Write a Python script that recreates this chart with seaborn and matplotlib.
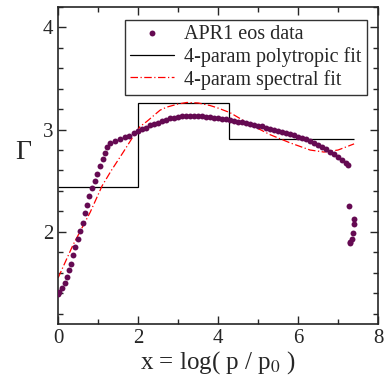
import numpy as np
import pandas as pd
import seaborn as sns
from matplotlib import pyplot as plt
from matplotlib.ticker import MultipleLocator

# APR1 eos data
apr_x = [0.0, 0.03, 0.1, 0.16, 0.21, 0.27, 0.32, 0.375, 0.43, 0.49, 0.55, 0.61,
         0.67, 0.73, 0.78, 0.84, 0.92, 0.98, 1.05, 1.12, 1.18, 1.23, 1.29, 1.42,
         1.54, 1.66, 1.78, 1.9,
         2.0, 2.1, 2.2, 2.3, 2.4, 2.5, 2.6, 2.7, 2.8, 2.9, 3.0, 3.1, 3.2, 3.3,
         3.4, 3.5, 3.6, 3.7, 3.8, 3.9, 4.0, 4.1, 4.2, 4.3, 4.4, 4.5, 4.6, 4.7,
         4.8, 4.9, 5.0, 5.1, 5.2, 5.3, 5.4, 5.5, 5.6, 5.7, 5.8, 5.9, 6.0, 6.1,
         6.2, 6.3, 6.4, 6.5, 6.6, 6.7, 6.8, 6.9, 7.0, 7.1, 7.2, 7.25,
         7.27, 7.40, 7.39, 7.37, 7.34, 7.31, 7.29]
apr_gamma = [1.39, 1.41, 1.45, 1.50, 1.56, 1.63, 1.69, 1.77, 1.85, 1.93, 2.01, 2.09,
             2.18, 2.26, 2.35, 2.43, 2.50, 2.57, 2.64, 2.71, 2.77, 2.83, 2.87, 2.89,
             2.905, 2.925, 2.94, 2.965,
             2.985, 3.005, 3.02, 3.04, 3.05, 3.065, 3.08, 3.095, 3.11, 3.11, 3.125,
             3.13, 3.135, 3.135, 3.13, 3.13, 3.13, 3.125, 3.12, 3.115, 3.11, 3.105,
             3.10, 3.09, 3.085, 3.075, 3.07, 3.06, 3.05, 3.045, 3.035, 3.03, 3.02,
             3.01, 3.0, 2.99, 2.98, 2.97, 2.96, 2.945, 2.93, 2.92, 2.905, 2.89,
             2.87, 2.85, 2.83, 2.81, 2.78, 2.76, 2.73, 2.70, 2.67, 2.65,
             2.25, 2.13, 2.08, 1.99, 1.93, 1.905, 1.89]

# 4-param polytropic fit: dividing points and adiabatic indices
poly_edges = [0.0, 2.0, 4.26, 7.41]
poly_gamma = [2.44, 3.26, 2.91]

# 4-param spectral fit
spec_x = [0.0, 0.37, 0.8, 1.1, 1.33, 1.63, 1.84, 2.05, 2.22, 2.55, 2.72, 3.0,
          3.22, 3.5, 3.8, 4.0, 4.3, 4.8, 5.3, 5.8, 6.3, 6.65, 7.0, 7.4]
spec_gamma = [1.55, 1.87, 2.19, 2.45, 2.60, 2.78, 2.91, 3.03, 3.08, 3.19, 3.22, 3.25,
              3.265, 3.26, 3.235, 3.21, 3.165, 3.05, 2.95, 2.87, 2.80, 2.78, 2.80, 2.86]

sns.set_style("ticks")
plt.rcParams['font.family'] = ['Liberation Serif', 'DejaVu Serif']
plt.rcParams['mathtext.fontset'] = 'stix'

fig = plt.figure(figsize=(3.85, 3.81), dpi=100)
ax = fig.add_axes([0.151, 0.150, 0.831, 0.832])

apr = pd.DataFrame({'x': apr_x, 'gamma': apr_gamma})
spec = pd.DataFrame({'x': spec_x, 'gamma': spec_gamma})

sns.scatterplot(data=apr, x='x', y='gamma', ax=ax, color='#650a52', s=18,
                linewidth=0, label='APR1 eos data', zorder=3)
ax.stairs(poly_gamma, poly_edges, baseline=None, color='black', linewidth=0.9,
          label='4-param polytropic fit', zorder=2)
sns.lineplot(data=spec, x='x', y='gamma', ax=ax, color='red', linewidth=0.9,
             linestyle=(0, (6, 2, 1, 2)), sort=False, estimator=None,
             label='4-param spectral fit', zorder=2)

ax.set_xlim(0, 8)
ax.set_ylim(1.1, 4.2)
ax.xaxis.set_major_locator(MultipleLocator(2))
ax.xaxis.set_minor_locator(MultipleLocator(1))
ax.yaxis.set_major_locator(MultipleLocator(1))
ax.yaxis.set_minor_locator(MultipleLocator(0.2))
ax.tick_params(which='both', direction='in', top=True, right=True,
               labelsize=15, width=1.0)
ax.tick_params(which='major', length=6)
ax.tick_params(which='minor', length=3.5)
for s in ax.spines.values():
    s.set_linewidth(1.2)
    s.set_visible(True)

ax.set_xlabel('x = log( p / p$_0$ )', fontsize=18, labelpad=1)
ax.set_ylabel('Γ', fontsize=20, rotation=0, labelpad=14)

leg = ax.legend(loc='upper right', bbox_to_anchor=(0.965, 0.96), borderaxespad=0,
                fontsize=14.5, frameon=True, fancybox=False, handlelength=2.2,
                handletextpad=0.5, borderpad=0.25, labelspacing=0.15)
leg.get_frame().set_edgecolor('black')
leg.get_frame().set_linewidth(1.0)

fig.savefig('out.png', dpi=100)
